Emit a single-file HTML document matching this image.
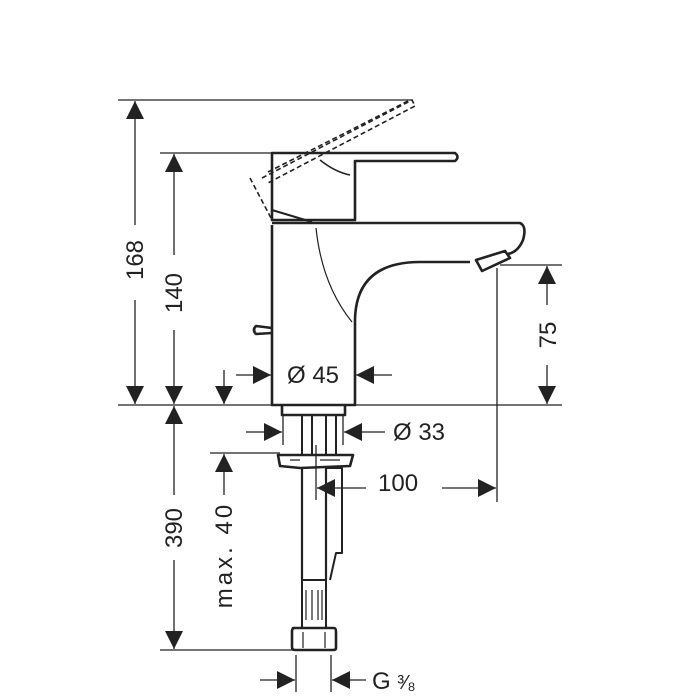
<!DOCTYPE html>
<html><head><style>
html,body{margin:0;padding:0;background:#fff}
svg{display:block}
text{font-family:"Liberation Sans","DejaVu Sans",sans-serif;font-size:24px;fill:#222}
</style></head><body>
<svg width="700" height="700" viewBox="0 0 700 700" xmlns="http://www.w3.org/2000/svg">
<defs>
<marker id="a" viewBox="0 0 10 10" refX="10" refY="5" markerWidth="18" markerHeight="18" markerUnits="userSpaceOnUse" orient="auto"><path d="M0,0 L10,5 L0,10z" fill="#222"/></marker>
</defs>
<g stroke="#222" stroke-width="1.3" fill="none">
<line x1="118" y1="100" x2="412" y2="100"/>
<line x1="160" y1="153" x2="272" y2="153"/>
<line x1="118" y1="405" x2="562" y2="405"/>
<line x1="500" y1="265" x2="562" y2="265"/>
<line x1="497" y1="268" x2="497" y2="502"/>
<line x1="210" y1="453" x2="280" y2="453"/>
<line x1="160" y1="650" x2="293" y2="650"/>
<line x1="283" y1="415" x2="283" y2="445"/>
<line x1="343" y1="415" x2="343" y2="445"/>
<line x1="296" y1="655" x2="296" y2="692"/>
<line x1="331" y1="655" x2="331" y2="692"/>
<line x1="316" y1="445" x2="316" y2="500"/>
<line x1="135" y1="225" x2="135" y2="101" marker-end="url(#a)"/>
<line x1="135" y1="300" x2="135" y2="404" marker-end="url(#a)"/>
<line x1="174" y1="255" x2="174" y2="154" marker-end="url(#a)"/>
<line x1="174" y1="330" x2="174" y2="404" marker-end="url(#a)"/>
<line x1="174" y1="495" x2="174" y2="406" marker-end="url(#a)"/>
<line x1="174" y1="560" x2="174" y2="649" marker-end="url(#a)"/>
<line x1="224" y1="370" x2="224" y2="404" marker-end="url(#a)"/>
<line x1="224" y1="495" x2="224" y2="454" marker-end="url(#a)"/>
<line x1="547" y1="305" x2="547" y2="266" marker-end="url(#a)"/>
<line x1="547" y1="365" x2="547" y2="404" marker-end="url(#a)"/>
<line x1="236" y1="375" x2="271" y2="375" marker-end="url(#a)"/>
<line x1="392" y1="375" x2="356" y2="375" marker-end="url(#a)"/>
<line x1="246" y1="432" x2="282" y2="432" marker-end="url(#a)"/>
<line x1="385" y1="432" x2="344" y2="432" marker-end="url(#a)"/>
<line x1="366" y1="488" x2="317" y2="488" marker-end="url(#a)"/>
<line x1="442" y1="488" x2="496" y2="488" marker-end="url(#a)"/>
<line x1="260" y1="680" x2="295" y2="680" marker-end="url(#a)"/>
<line x1="366" y1="680" x2="332" y2="680" marker-end="url(#a)"/>
</g>
<g stroke="#222" stroke-width="1.6" fill="none" stroke-dasharray="5,3">
<path d="M262 178 L412 100 L415 106 L266 184"/>
<path d="M268 172 L408 101"/>
<path d="M250 178 L272 220"/>
</g>
<g stroke="#222" stroke-width="2.6" fill="none" stroke-linejoin="round">
<path d="M272 225 L272 405 L355 405 L355 320 Q356 262 420 262 L470 262"/>
<path d="M272 223 L520 223 Q527 226 523 240 Q518 252 508 254"/>
<path d="M476 260 L505 251 L510 258 L482 271 Z"/>
<path d="M272 220 L272 153 L455 153 Q460 157 455 161 L355 161 L355 220 Z"/>
<path d="M320 160 Q335 172 350 175" stroke-width="1.5"/>
<path d="M272 210 L312 222" stroke-width="2"/>
<path d="M272 328 L256 326 Q252 330 256 334 L272 333"/>
<path d="M282 405 L282 415 L345 415 L345 405"/>
<path d="M278 455 L353 455 L350 466 L300 468 L280 466 Z"/>
<path d="M302 415 L302 455 M312 415 L312 455 M326 415 L326 455 M336 415 L336 455" stroke-width="2"/>
<path d="M302 468 L302 580 M326 468 L326 580" stroke-width="2.2"/>
<path d="M326 468 L342 468 L342 553 L336 553 L330 580" stroke-width="2"/>
<path d="M302 580 L326 580 L326 628 L302 628 Z" stroke-width="2"/>
<path d="M293 628 L334 628 Q336 628 336 632 L336 648 Q336 650 333 650 L295 650 Q292 650 292 647 L292 631 Q292 628 295 628 Z"/>
</g>
<g stroke="#222" stroke-width="1.2" fill="none">
<path d="M316 228 Q322 285 352 322"/>
<path d="M306 590 L306 620 M312 590 L312 620 M318 590 L318 620 M322 590 L322 620"/>
<path d="M303 632 L303 648 M325 632 L325 648"/>
<path d="M290 460 L300 460 M320 460 L340 460"/>
</g>
<text x="313" y="383" text-anchor="middle">Ø 45</text>
<text x="393" y="440">Ø 33</text>
<text x="378" y="491">100</text>
<text x="372" y="689">G <tspan font-size="20">³⁄₈</tspan></text>
<text transform="translate(143,260) rotate(-90)" text-anchor="middle">168</text>
<text transform="translate(182,293) rotate(-90)" text-anchor="middle">140</text>
<text transform="translate(182,528) rotate(-90)" text-anchor="middle">390</text>
<text transform="translate(556,335) rotate(-90)" text-anchor="middle">75</text>
<text transform="translate(232,555) rotate(-90)" text-anchor="middle" letter-spacing="3">max. 40</text>
</svg>
</body></html>
